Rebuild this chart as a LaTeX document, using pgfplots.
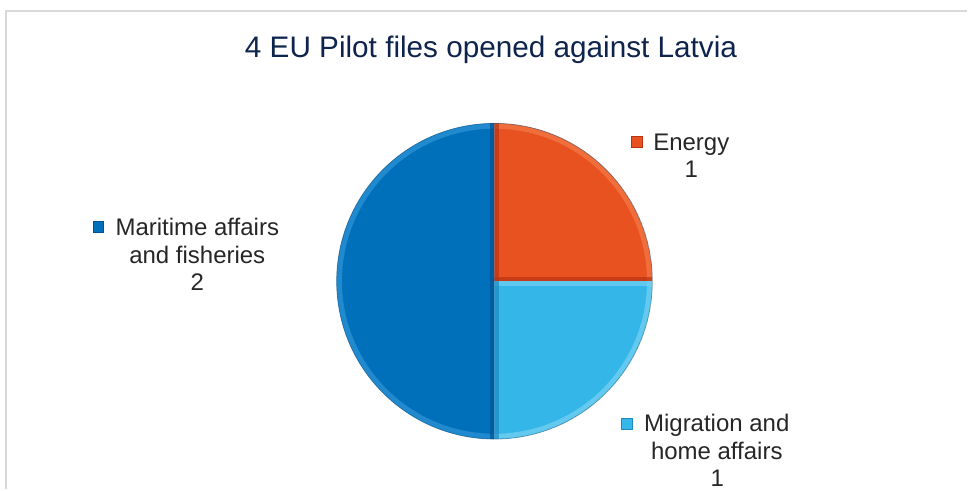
\documentclass[border=0pt]{standalone}
\usepackage{fontspec}
\setmainfont{Liberation Sans}
\usepackage{pgfplots}
\usepackage{pgfplotstable}
\pgfplotsset{compat=1.18}
\definecolor{titlecol}{RGB}{14,36,76}
\definecolor{txt}{RGB}{38,38,38}
\definecolor{framecol}{RGB}{217,217,217}
\definecolor{enB}{RGB}{232,82,33}
\definecolor{enL}{RGB}{242,120,70}
\definecolor{enD}{RGB}{185,52,18}
\definecolor{miB}{RGB}{52,182,233}
\definecolor{miL}{RGB}{115,208,242}
\definecolor{miD}{RGB}{28,138,192}
\definecolor{maB}{RGB}{0,112,186}
\definecolor{maL}{RGB}{45,148,214}
\definecolor{maD}{RGB}{0,82,146}
\pgfplotstableread{
label value
Energy 1
Migration 1
Maritime 2
}\piedata
\pgfplotstablegetelem{0}{value}\of\piedata\let\va\pgfplotsretval
\pgfplotstablegetelem{1}{value}\of\piedata\let\vb\pgfplotsretval
\pgfplotstablegetelem{2}{value}\of\piedata\let\vc\pgfplotsretval
\pgfmathsetmacro\tot{\va+\vb+\vc}
\pgfmathsetmacro\aA{90}
\pgfmathsetmacro\aB{\aA-360*\va/\tot}
\pgfmathsetmacro\aC{\aB-360*\vb/\tot}
\pgfmathsetmacro\aD{\aC-360*\vc/\tot}
\def\R{118.5pt}
\newcommand{\ttl}{\fontsize{22.3pt}{26pt}\selectfont}
\newcommand{\lab}{\fontsize{18pt}{21pt}\selectfont}
% start angle, end angle, base, light (arc), start-edge colour, end-edge colour
\newcommand{\piewedge}[6]{%
  \begin{scope}
    \clip (C) -- ([shift={(#1:\R)}]C) arc[start angle=#1,end angle=#2,radius=\R] -- cycle;
    \fill[#3] (C) -- ([shift={(#1:\R)}]C) arc[start angle=#1,end angle=#2,radius=\R] -- cycle;
    \draw[#4, line width=8pt, opacity=0.75] ([shift={(#1:\R)}]C) arc[start angle=#1,end angle=#2,radius=\R];
    \draw[#5, line width=7pt, opacity=0.7] ([shift={(#1:\R)}]C) -- (C);
    \draw[#6, line width=7pt, opacity=0.7] ([shift={(#2:\R)}]C) -- (C);
  \end{scope}}
\begin{document}
\begin{tikzpicture}
\begin{axis}[x=0.75pt, y=0.75pt, xmin=0, xmax=968, ymin=0, ymax=490,
  scale only axis, hide axis, clip=false, anchor=origin]
  \path (axis cs:0,0) rectangle (axis cs:968,490);
  \draw[framecol, line width=1.5pt] (axis cs:6,0) -- (axis cs:6,479) -- (axis cs:968,479);
  \coordinate (C) at (axis cs:495,208.5);
  \piewedge{\aA}{\aB}{enB}{enL}{enD}{enD}
  \piewedge{\aB}{\aC}{miB}{miL}{miL}{miD}
  \piewedge{\aC}{\aD}{maB}{maL}{maD}{maD}
  \draw[maD!70!black, line width=0.6pt, opacity=0.4] (C) circle[radius=\R];
  \node[anchor=base, font=\ttl, text=titlecol] at (axis cs:491.5,432) {4 EU Pilot files opened against Latvia};
  % markers
  \fill[enB, draw=enD, line width=0.6pt] (axis cs:632,342.5) rectangle (axis cs:643,353.5);
  \fill[maB, draw=maD, line width=0.6pt] (axis cs:93,257.5) rectangle (axis cs:104,268.5);
  \fill[miB, draw=miD, line width=0.6pt] (axis cs:622.5,60) rectangle (axis cs:633.5,71);
  \node[anchor=base, font=\lab, text=txt] at (axis cs:692,339) {Energy};
  \node[anchor=base, font=\lab, text=txt] at (axis cs:692,312) {1};
  \node[anchor=base, font=\lab, text=txt] at (axis cs:197.5,254.5) {Maritime affairs};
  \node[anchor=base, font=\lab, text=txt] at (axis cs:197.5,226) {and fisheries};
  \node[anchor=base, font=\lab, text=txt] at (axis cs:197.5,199) {2};
  \node[anchor=base, font=\lab, text=txt] at (axis cs:717.5,58) {Migration and};
  \node[anchor=base, font=\lab, text=txt] at (axis cs:717.5,30) {home affairs};
  \node[anchor=base, inner sep=0pt, font=\lab, text=txt] at (axis cs:718,2.5) {1};
\end{axis}
\end{tikzpicture}
\end{document}
